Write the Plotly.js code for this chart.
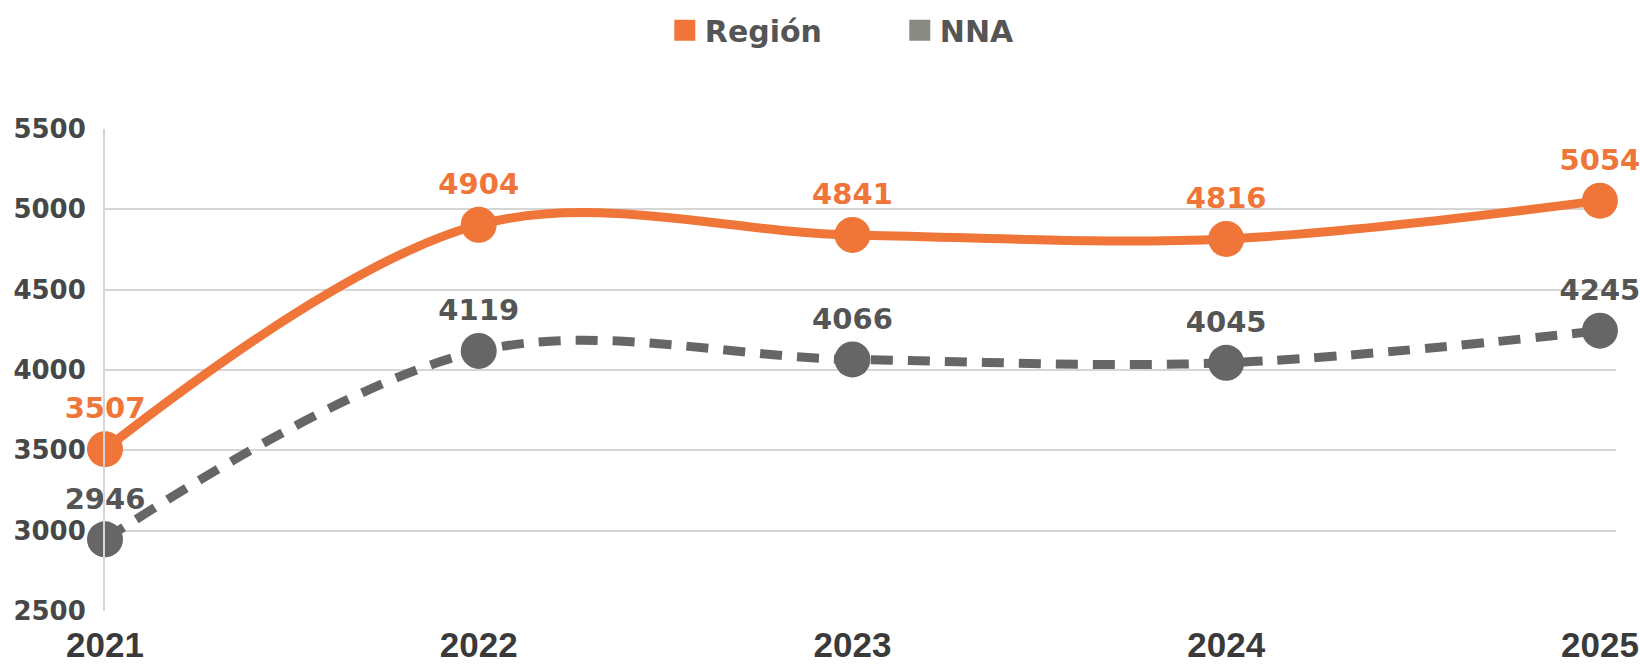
<!DOCTYPE html>
<html>
<head>
<meta charset="utf-8">
<script src="https://cdn.plot.ly/plotly-3.0.1.min.js"></script>
<style>html,body{margin:0;padding:0;background:#fff;}#chart{width:1640px;height:668px;}</style>
</head>
<body>
<div id="chart"></div>
<script>
const years = [2021, 2022, 2023, 2024, 2025];
const region = [3507, 4904, 4841, 4816, 5054];
const nna = [2946, 4119, 4066, 4045, 4245];
const seriesNames = ['Región', 'NNA'];
const yTicks = [2500, 3000, 3500, 4000, 4500, 5000, 5500];

const ORANGE = '#EF7539';
const GRAY = '#666666';
const LEG_GRAY = '#8A8A84';

const traces = [
  {
    x: years, y: nna, name: seriesNames[1], type: 'scatter', mode: 'lines+markers+text',
    line: {color: GRAY, width: 9, shape: 'spline', smoothing: 1, dash: '22px,15px'},
    marker: {color: GRAY, size: 36},
    text: nna.map(String), textposition: 'top center',
    textfont: {family: 'DejaVu Sans', size: 29, color: '#555555', weight: 'bold'},
    cliponaxis: false, showlegend: false, hoverinfo: 'skip'
  },
  {
    x: years, y: region, name: seriesNames[0], type: 'scatter', mode: 'lines+markers+text',
    line: {color: ORANGE, width: 9, shape: 'spline', smoothing: 1},
    marker: {color: ORANGE, size: 36},
    text: region.map(String), textposition: 'top center',
    textfont: {family: 'DejaVu Sans', size: 29, color: ORANGE, weight: 'bold'},
    cliponaxis: false, showlegend: false, hoverinfo: 'skip'
  },
  {
    x: [null], y: [null], name: seriesNames[0], type: 'scatter', mode: 'markers',
    marker: {color: ORANGE, symbol: 'square', size: 16, line: {color: ORANGE, width: 5}},
    showlegend: true, hoverinfo: 'skip', legendrank: 1
  },
  {
    x: [null], y: [null], name: seriesNames[1], type: 'scatter', mode: 'markers',
    marker: {color: LEG_GRAY, symbol: 'square', size: 16, line: {color: LEG_GRAY, width: 5}},
    showlegend: true, hoverinfo: 'skip', legendrank: 2
  }
];

const layout = {
  width: 1640, height: 668,
  margin: {l: 105, r: 24, t: 129, b: 57, autoexpand: false},
  paper_bgcolor: '#ffffff', plot_bgcolor: '#ffffff',
  showlegend: true,
  legend: {
    orientation: 'h', x: 0.526, xanchor: 'center', y: 1.205, yanchor: 'middle',
    font: {family: 'DejaVu Sans', size: 30, color: '#555555', weight: 'bold'},
    entrywidth: 190, entrywidthmode: 'pixels', traceorder: 'normal'
  },
  xaxis: {
    range: [2021, 2025.043], tickvals: years, ticktext: years.map(String),
    showgrid: false, zeroline: false, showline: false,
    ticks: 'outside', ticklen: 3, tickcolor: 'rgba(0,0,0,0)',
    tickfont: {family: 'Liberation Sans', size: 35, color: '#3a3a3a', weight: 'bold'}
  },
  yaxis: {
    range: [2500, 5500], tickvals: yTicks, ticktext: yTicks.map(String),
    showgrid: true, gridcolor: '#d6d6d6', gridwidth: 2,
    zeroline: false, showline: true, linecolor: '#d6d6d6', linewidth: 2,
    ticks: 'outside', ticklen: 12, tickcolor: 'rgba(0,0,0,0)',
    tickfont: {family: 'DejaVu Sans', size: 26, color: '#474747', weight: 'bold'}
  }
};

Plotly.newPlot('chart', traces, layout, {displayModeBar: false, staticPlot: true});
</script>
</body>
</html>
